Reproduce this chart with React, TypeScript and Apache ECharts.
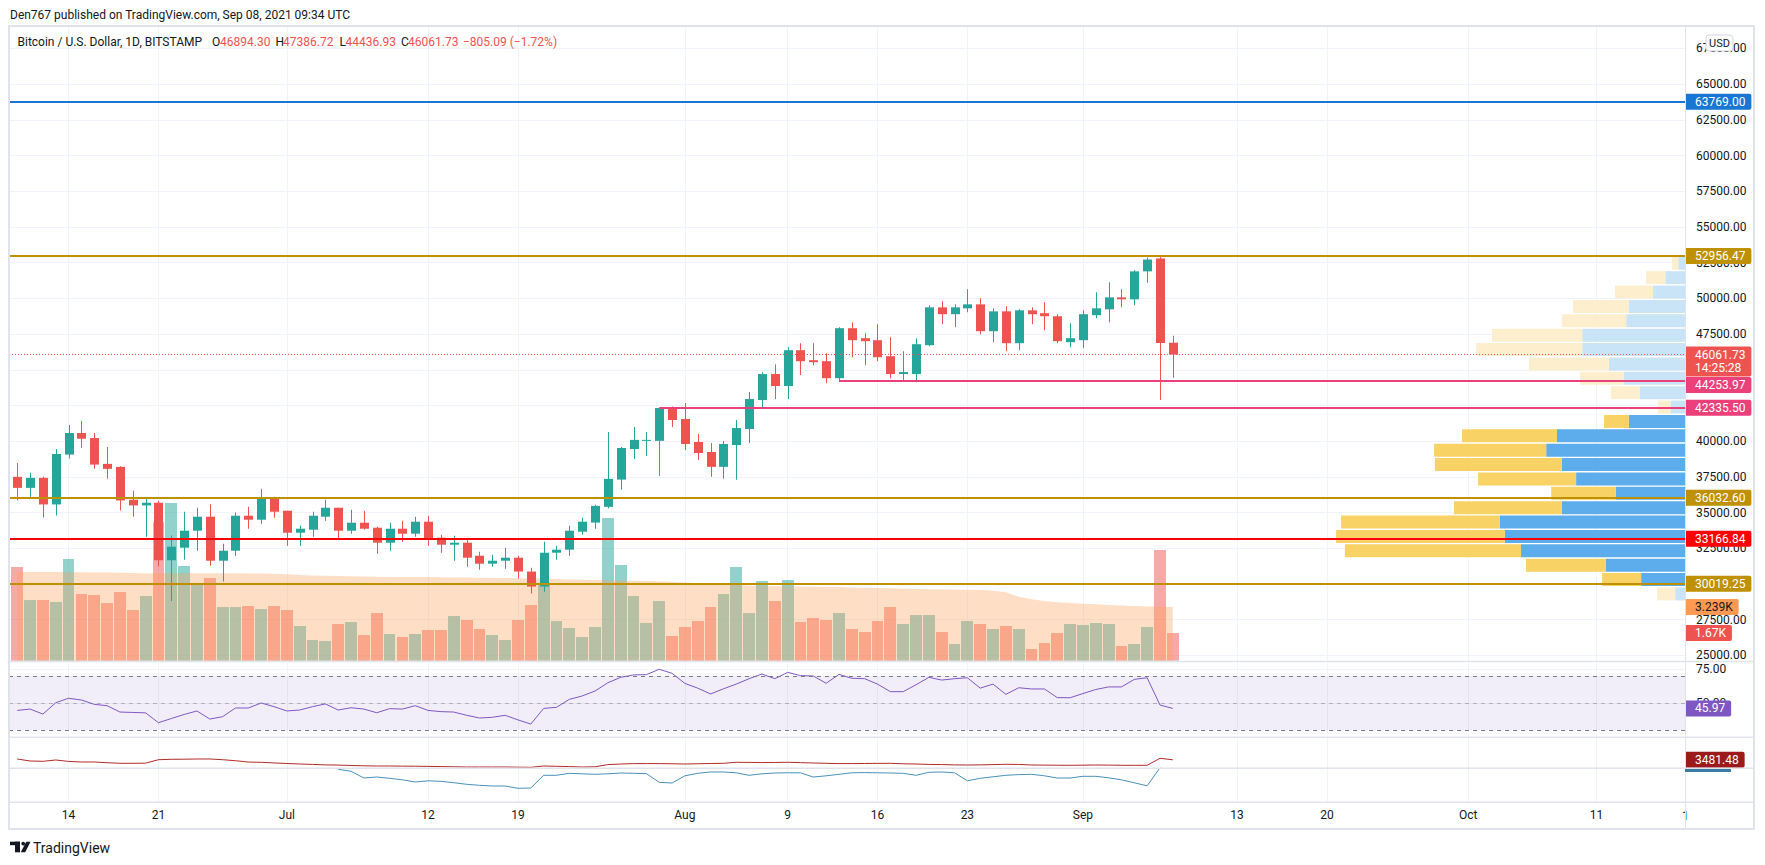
import React, { useEffect, useRef } from 'react';
import * as echarts from 'echarts';

// ---------------- data ----------------
const dates = [
  '2021-06-10','2021-06-11','2021-06-12','2021-06-13','2021-06-14','2021-06-15','2021-06-16','2021-06-17','2021-06-18','2021-06-19',
  '2021-06-20','2021-06-21','2021-06-22','2021-06-23','2021-06-24','2021-06-25','2021-06-26','2021-06-27','2021-06-28','2021-06-29',
  '2021-06-30','2021-07-01','2021-07-02','2021-07-03','2021-07-04','2021-07-05','2021-07-06','2021-07-07','2021-07-08','2021-07-09',
  '2021-07-10','2021-07-11','2021-07-12','2021-07-13','2021-07-14','2021-07-15','2021-07-16','2021-07-17','2021-07-18','2021-07-19',
  '2021-07-20','2021-07-21','2021-07-22','2021-07-23','2021-07-24','2021-07-25','2021-07-26','2021-07-27','2021-07-28','2021-07-29',
  '2021-07-30','2021-07-31','2021-08-01','2021-08-02','2021-08-03','2021-08-04','2021-08-05','2021-08-06','2021-08-07','2021-08-08',
  '2021-08-09','2021-08-10','2021-08-11','2021-08-12','2021-08-13','2021-08-14','2021-08-15','2021-08-16','2021-08-17','2021-08-18',
  '2021-08-19','2021-08-20','2021-08-21','2021-08-22','2021-08-23','2021-08-24','2021-08-25','2021-08-26','2021-08-27','2021-08-28',
  '2021-08-29','2021-08-30','2021-08-31','2021-09-01','2021-09-02','2021-09-03','2021-09-04','2021-09-05','2021-09-06','2021-09-07',
  '2021-09-08',
];

const opens = [
  37500,36730,37430,35570,39060,40570,40220,38410,38200,35900,
  35500,35690,31660,32540,33730,34710,31630,32330,34780,34500,
  35960,35130,33590,33800,34710,35340,33730,34290,33940,32890,
  33870,33520,34360,33240,32750,32890,31980,31420,31630,31840,
  30870,29820,32190,32400,33660,34300,35400,37310,39450,40020,
  40020,42320,41550,39940,39240,38200,39730,40850,42880,44700,
  43860,46370,45670,45600,44410,47910,47210,47070,45950,44700,
  44700,46720,49370,48890,49300,49580,47700,49090,46860,49160,
  48960,48750,46930,47070,48820,49230,50070,49930,51890,52790,
  46894.30,
];
const highs = [
  38480,37780,37500,39450,41130,41410,40570,39600,38250,36520,
  36060,35820,33400,35060,35330,35590,32820,35000,35400,36660,
  36100,35130,34080,35060,35900,35340,35200,35130,34010,34290,
  34430,34710,34780,33450,33380,33240,32260,32050,32540,31980,
  31140,32960,32680,34080,34640,35540,40640,39590,41000,40640,
  42320,42420,42670,40500,39870,40010,41480,43450,44830,45390,
  46580,46860,46860,46160,47980,48330,47560,48190,47280,46300,
  47210,49510,49790,49580,50630,50000,49300,49440,49230,49370,
  49720,48890,48260,49160,50420,51120,50630,51960,52860,52956.47,
  47386.72,
];
const lows = [
  35850,36010,34660,34800,38780,39525,38060,37360,35150,34700,
  33310,31240,28800,31700,32330,31280,30170,31960,33870,34220,
  34640,32680,32680,33310,34430,33170,33520,33800,32120,32330,
  32960,33310,32680,32190,31630,31210,31000,31210,31070,30380,
  29330,29450,31700,31980,33450,33870,35290,36620,38760,38970,
  37570,41000,39380,38690,37500,37360,37290,39870,42250,42950,
  42950,44630,45320,44060,44253.97,45880,45320,45600,44410,44200,
  44130,46650,48190,47980,49020,47490,46930,46300,46370,48190,
  47770,46860,46580,46510,48610,48330,49370,49510,51100,42890,
  44436.93,
];
const closes = [
  36730,37430,35570,39100,40570,40170,38360,38060,35850,35500,
  35690,31660,32610,33730,34710,31630,32330,34780,34500,35960,
  35060,33590,33870,34780,35340,33730,34290,33870,32890,33870,
  33520,34360,33100,32750,32890,31840,31420,31630,31840,30870,
  29820,32190,32400,33730,34360,35470,37360,39520,40090,40090,
  42320,41480,39800,39170,38200,39800,40920,42950,44700,43860,
  46370,45600,45530,44410,47910,47070,47000,45880,44700,44840,
  46790,49370,48890,49370,49580,47700,49090,46860,49160,48890,
  48750,47000,47210,48890,49300,50070,49930,51890,52720,46866.82,
  46061.73,
];
const volumes = [
  5645,3657,3657,3536,6127,4018,3958,3476,4139,3054,
  3898,8355,9500,5705,4681,4982,3235,3235,3295,3114,
  3295,3054,2090,1247,1187,2211,2331,1548,2873,1608,
  1428,1608,1849,1849,2693,2452,1910,1548,1247,2452,
  3355,4560,2392,1970,1428,2030,8596,5765,3898,2271,
  3596,1488,2030,2392,3235,4018,5645,2873,4801,3596,
  4861,2331,2572,2452,2873,1910,1729,2392,3235,2211,
  2753,2753,1729,1006,2392,2211,1910,2090,1910,705,
  1066,1669,2211,2151,2271,2211,886,1006,2030,6669,
  1670,
];
const volumeMA = [
  5360,5350,5350,5340,5330,5330,5320,5310,5300,5280,
  5260,5270,5280,5280,5270,5270,5270,5270,5260,5260,
  5240,5210,5170,5140,5120,5100,5090,5070,5060,5050,
  5050,5040,5040,5030,5020,5010,5000,4990,4980,4970,
  4960,4940,4920,4900,4880,4860,4850,4840,4820,4800,
  4770,4750,4710,4670,4630,4590,4560,4540,4510,4490,
  4480,4470,4460,4450,4440,4420,4400,4380,4360,4340,
  4320,4310,4300,4290,4280,4270,4220,4120,3860,3700,
  3600,3530,3480,3440,3400,3360,3320,3290,3260,3250,
  3239,
];
const rsi = [
  44.5,45.5,41.8,50.2,53.5,52.2,49,48,43.3,43,
  42.7,35.4,38.5,41.5,44.1,38.1,39.9,46.3,46.3,50,
  47.3,44.1,44.8,47.3,49.3,44.8,46.5,45.5,42.8,45.8,
  45.5,48,44.5,43.6,43.3,40.9,38.9,39.4,40.9,37.5,
  34.4,46,46.8,52.7,55.2,58.9,65,69,70.8,71,
  75,72,64.5,61,56.7,60.5,64,68,71.5,68,
  72.7,70.3,70,64.6,71.2,68.3,68,64,58.4,58.4,
  63.5,69,67,68,68.7,61,64,56.4,61.3,60.4,
  60.4,54,53.9,57,60,61.9,61.9,67.5,68.7,48.5,
  45.97,
];
const indicatorA = [
  3667,3200,3131,3434,3100,2968,2968,2800,2665,2665,
  2700,3500,3597,3620,3667,3667,3500,3270,2950,2898,
  2750,2620,2502,2400,2300,2250,2150,2080,2036,2036,
  2000,1990,1950,1900,1860,1803,1803,1803,1803,1760,
  1733,2036,1966,1900,1803,1850,2360,2500,2595,2595,
  2595,2560,2500,2560,2620,2665,2900,2870,2830,2860,
  2900,2820,2735,2660,2595,2595,2620,2650,2665,2550,
  2500,2400,2360,2300,2270,2300,2360,2430,2400,2270,
  2240,2220,2200,2230,2270,2250,2200,2200,2200,3830,
  3481.48,
];
const indicatorB = [
  null,null,null,null,null,null,null,null,null,null,
  null,null,null,null,null,null,null,null,null,null,
  null,null,null,null,null,-1,-3,-9.7,-8.7,-10,
  -11.5,-13.7,-12.5,-13,-14.4,-16,-17,-17.7,-17.7,-20,
  -19.7,-7,-7,-5,-5.5,-6,-5.5,-4.7,-5,-5.3,
  -14,-14.7,-7.5,-5,-3.7,-3.7,-4.5,-7,-5.5,-4.7,
  -4.5,-4.5,-8.7,-7.5,-6,-4.5,-4.3,-4.5,-4.7,-5,
  -7,-4,-3.7,-4.5,-12.5,-10,-8.5,-7,-6.3,-6,
  -7.5,-9.7,-9.7,-8,-8,-9.5,-11.5,-14.5,-17.5,0.5,
  6,
];

// visible-range volume profile, rows from bottom to top
const profileLow = 28800;
const profileHigh = 52956.47;
const profileUp = [9.8,43.9,79.1,164,180.1,185.1,123.1,69.1,108.9,123.1,138.8,128,56.1,14.4,45,61.1,76,102.8,102.8,58.8,56.1,32,19.7,6.7];
const profileDown = [18,39,79.9,176.1,168.8,158.8,107.9,64.7,98,127,112.1,95,24.9,12.6,29.1,44,80,106,90.3,64.3,55.9,37.9,19.2,6.2];
const valueAreaRows = [1, 12];

// drawn levels
const levelResistanceTop = 63769.0;
const levelGold = [52956.47, 36032.6, 30019.25];
const levelRed = 33166.84;
const rayLevels = [
  { price: 44253.97, from: '2021-08-13' },
  { price: 42335.5, from: '2021-07-30' },
];

const tickDates = ['2021-06-14','2021-06-21','2021-07-01','2021-07-12','2021-07-19','2021-08-01','2021-08-09','2021-08-16','2021-08-23','2021-09-01','2021-09-13','2021-09-20','2021-10-01','2021-10-11'];
const tickLabels = ['14','21','Jul','12','19','Aug','9','16','23','Sep','13','20','Oct','11'];

const countdown = '14:25:28';

// ---------------- style / layout ----------------
const FONT = 'Roboto, "Noto Sans", Arial, sans-serif';
const TEXT = '#131722';
const GREEN = '#26a69a';
const RED = '#ef5350';
const GOLD = '#bf9000';
const PINK = '#ec407a';
const BLUE = '#1976d2';
const GRID_LINE = '#f0f3fa';
const BORDER = '#e0e3eb';
const NO_LINE = { color: 'rgba(0,0,0,0)', width: 0 };

const PLOT_L = 9;
const PLOT_R = 1685;
const PLOT_W = PLOT_R - PLOT_L;
const FRAME_R = 1754;
const DAY_PX = 12.84;
const X_MIN = -0.64;
const X_MAX = X_MIN + PLOT_W / DAY_PX;

const dayIndex = (d: string) => Math.round((Date.parse(d) - Date.parse(dates[0])) / 86400000);
const tickIdx = tickDates.map(dayIndex);
const tickFmt = (v: number) => {
  const k = tickIdx.indexOf(Math.round(v));
  return k >= 0 ? tickLabels[k] : '';
};

const fmtK = (v: number) => (v / 1000).toFixed(3).replace(/0+$/, '').replace(/\.$/, '') + 'K';

const box = (bg: string, color = '#ffffff', extra: any = {}) => ({
  show: true,
  position: 'end',
  distance: 0,
  backgroundColor: bg,
  color,
  fontSize: 12,
  fontFamily: FONT,
  lineHeight: 12,
  padding: [2, 6, 2, 10],
  borderRadius: [0, 2, 2, 0],
  ...extra,
});

const makeX = (gridIndex: number, grid: boolean, labels: boolean) => ({
  type: 'value',
  gridIndex,
  min: X_MIN,
  max: X_MAX,
  axisLine: { show: false },
  axisTick: { show: false, customValues: tickIdx },
  axisLabel: labels
    ? { show: true, customValues: tickIdx, formatter: tickFmt, color: TEXT, fontSize: 12, fontFamily: FONT, margin: 7 }
    : { show: false },
  splitLine: { show: grid, lineStyle: { color: GRID_LINE, width: 1 } },
});

function buildOption() {
  const n = closes.length;
  const last = n - 1;
  const step = (profileHigh - profileLow) / profileUp.length;

  const priceLevelLines: any[] = [
    {
      yAxis: levelResistanceTop,
      lineStyle: { color: BLUE, width: 2, type: 'solid' },
      label: box(BLUE, '#fff', { formatter: levelResistanceTop.toFixed(2) }),
    },
    ...levelGold.map((p) => ({
      yAxis: p,
      lineStyle: { color: GOLD, width: 2, type: 'solid' },
      label: box(GOLD, '#fff', { formatter: p.toFixed(2) }),
    })),
    {
      yAxis: levelRed,
      lineStyle: { color: '#ff0000', width: 2, type: 'solid' },
      label: box('#ff0000', '#fff', { formatter: levelRed.toFixed(2) }),
    },
    {
      yAxis: closes[last],
      lineStyle: { color: RED, width: 1, type: [1, 2] },
      label: box(RED, '#fff', { formatter: closes[last].toFixed(2) + '\n' + countdown, lineHeight: 13, offset: [0, 7] }),
    },
    ...rayLevels.map((r, k) => [
      {
        coord: [dayIndex(r.from), r.price],
        lineStyle: { color: PINK, width: 2, type: 'solid' },
        label: box(PINK, '#fff', { formatter: r.price.toFixed(2), offset: [0, k === 0 ? 4.6 : 0] }),
      },
      { coord: [X_MAX, r.price] },
    ]),
  ];

  return {
    animation: false,
    backgroundColor: '#ffffff',
    textStyle: { fontFamily: FONT },
    grid: [
      { left: PLOT_L, width: PLOT_W, top: 12.71, height: 678.39 }, // 0 price
      { left: PLOT_L, width: PLOT_W, top: 27, height: 633.7 }, // 1 volume
      { left: PLOT_L, width: PLOT_W, top: 662.5, height: 74.25 }, // 2 rsi
      { left: PLOT_L, width: PLOT_W, top: 737.3, height: 31 }, // 3 indicator A
      { left: PLOT_L, width: PLOT_W, top: 768.3, height: 34 }, // 4 indicator B
      { left: PLOT_L, width: PLOT_W, top: 12.71, height: 678.39 }, // 5 profile
    ],
    xAxis: [
      { ...makeX(0, false, false), show: false },
      makeX(1, true, false),
      makeX(2, true, false),
      makeX(3, true, false),
      makeX(4, true, true),
      { type: 'value', gridIndex: 5, min: 0, max: PLOT_W, inverse: true, show: false },
    ],
    yAxis: [
      {
        type: 'value', gridIndex: 0, position: 'right', min: 22500, max: 70000, interval: 2500,
        axisLine: { show: false }, axisTick: { show: false },
        axisLabel: {
          formatter: (v: number) => v.toFixed(2), color: TEXT, fontSize: 12, fontFamily: FONT, margin: 11,
          showMinLabel: false, showMaxLabel: false,
        },
        splitLine: { show: true, showMinLine: false, showMaxLine: false, lineStyle: { color: GRID_LINE, width: 1 } },
      },
      { type: 'value', gridIndex: 1, min: 0, max: 38200, show: false },
      {
        type: 'value', gridIndex: 2, position: 'right', min: 25, max: 80, interval: 25,
        axisLine: { show: false }, axisTick: { show: false },
        axisLabel: {
          formatter: (v: number) => v.toFixed(2), color: TEXT, fontSize: 12, fontFamily: FONT, margin: 11,
          showMinLabel: false, showMaxLabel: false,
        },
        splitLine: { show: true, showMinLine: false, showMaxLine: false, lineStyle: { color: GRID_LINE, width: 1 } },
      },
      { type: 'value', gridIndex: 3, min: 1500, max: 8723, show: false },
      { type: 'value', gridIndex: 4, min: -34, max: 0, show: false },
      { type: 'value', gridIndex: 5, min: 22500, max: 70000, show: false },
    ],
    series: [
      {
        name: 'Volume profile',
        type: 'custom',
        xAxisIndex: 5,
        yAxisIndex: 5,
        z: 1,
        silent: true,
        data: profileUp.map((u, i) => [i, u, profileDown[i]]),
        renderItem: (params: any, api: any) => {
          const i = api.value(0);
          const up = api.value(1);
          const dn = api.value(2);
          const lo = profileLow + i * step;
          const hi = lo + step;
          const a = api.coord([0, hi]);
          const b = api.coord([up, lo]);
          const c = api.coord([up + dn, lo]);
          const inVA = i >= valueAreaRows[0] && i <= valueAreaRows[1];
          const y0 = a[1] + 0.7;
          const h = b[1] - a[1] - 1.4;
          return {
            type: 'group',
            children: [
              { type: 'rect', shape: { x: b[0], y: y0, width: a[0] - b[0], height: h }, style: { fill: inVA ? '#5dadec' : '#c9e4f6' } },
              { type: 'rect', shape: { x: c[0], y: y0, width: b[0] - c[0], height: h }, style: { fill: inVA ? '#f9d266' : '#fdefcd' } },
            ],
          };
        },
      },
      {
        name: 'Volume',
        type: 'custom',
        xAxisIndex: 1,
        yAxisIndex: 1,
        z: 2,
        silent: true,
        data: volumes.map((v, i) => [i, v]),
        renderItem: (params: any, api: any) => {
          const i = api.value(0);
          const v = api.value(1);
          const top = api.coord([i, v]);
          const base = api.coord([i, 0]);
          const x0 = Math.round(top[0] - 5.9);
          const x1 = Math.round(top[0] + 5.9);
          const up = closes[i] >= opens[i];
          return {
            type: 'rect',
            shape: { x: x0, y: top[1], width: x1 - x0, height: base[1] - top[1] },
            style: { fill: up ? 'rgba(38,166,154,0.5)' : 'rgba(239,83,80,0.5)' },
          };
        },
      },
      {
        name: 'Volume MA',
        type: 'line',
        xAxisIndex: 1,
        yAxisIndex: 1,
        z: 3,
        silent: true,
        showSymbol: false,
        data: volumeMA.map((v, i) => [i, v]),
        lineStyle: { opacity: 0 },
        areaStyle: { color: 'rgba(251,161,89,0.5)' },
        markLine: {
          symbol: 'none',
          silent: true,
          animation: false,
          data: [
            { yAxis: volumeMA[last], lineStyle: NO_LINE, label: box('#ff9a52', TEXT, { formatter: fmtK(volumeMA[last]) }) },
            { yAxis: volumes[last], lineStyle: NO_LINE, label: box(RED, '#fff', { formatter: fmtK(volumes[last]) }) },
          ],
        },
      },
      {
        name: 'BTCUSD',
        type: 'custom',
        xAxisIndex: 0,
        yAxisIndex: 0,
        z: 4,
        silent: true,
        data: closes.map((c, i) => [i, opens[i], c, lows[i], highs[i]]),
        renderItem: (params: any, api: any) => {
          const i = api.value(0);
          const o = api.value(1);
          const c = api.value(2);
          const l = api.value(3);
          const h = api.value(4);
          const po = api.coord([i, o]);
          const pc = api.coord([i, c]);
          const pl = api.coord([i, l]);
          const ph = api.coord([i, h]);
          const color = c >= o ? GREEN : RED;
          const cx = Math.round(po[0]);
          const top = Math.min(po[1], pc[1]);
          const hh = Math.max(1, Math.abs(po[1] - pc[1]));
          return {
            type: 'group',
            children: [
              { type: 'rect', shape: { x: cx, y: ph[1], width: 1, height: pl[1] - ph[1] }, style: { fill: color } },
              { type: 'rect', shape: { x: cx - 4, y: top, width: 9, height: hh }, style: { fill: color } },
            ],
          };
        },
      },
      {
        name: 'Levels',
        type: 'line',
        xAxisIndex: 0,
        yAxisIndex: 0,
        z: 5,
        silent: true,
        showSymbol: false,
        data: closes.map((c, i) => [i, c]),
        lineStyle: { opacity: 0 },
        markLine: { symbol: 'none', silent: true, animation: false, data: priceLevelLines },
      },
      {
        name: 'RSI',
        type: 'line',
        xAxisIndex: 2,
        yAxisIndex: 2,
        z: 4,
        silent: true,
        showSymbol: false,
        data: rsi.map((v, i) => [i, v]),
        lineStyle: { color: '#7e57c2', width: 1 },
        markArea: {
          silent: true,
          itemStyle: { color: 'rgba(126,87,194,0.1)' },
          data: [[{ yAxis: 30 }, { yAxis: 70 }]],
        },
        markLine: {
          symbol: 'none',
          silent: true,
          animation: false,
          data: [
            { yAxis: 70, lineStyle: { color: '#787b86', width: 1, type: [4, 4] }, label: { show: false } },
            { yAxis: 50, lineStyle: { color: 'rgba(120,123,134,0.5)', width: 1, type: [4, 4] }, label: { show: false } },
            { yAxis: 30, lineStyle: { color: '#787b86', width: 1, type: [4, 4] }, label: { show: false } },
            { yAxis: rsi[last], lineStyle: NO_LINE, label: box('#7e57c2', '#fff', { formatter: rsi[last].toFixed(2) }) },
          ],
        },
      },
      {
        name: 'Indicator A',
        type: 'line',
        xAxisIndex: 3,
        yAxisIndex: 3,
        z: 4,
        silent: true,
        showSymbol: false,
        data: indicatorA.map((v, i) => [i, v]),
        lineStyle: { color: '#b22a2a', width: 1 },
        markLine: {
          symbol: 'none',
          silent: true,
          animation: false,
          data: [
            { yAxis: indicatorA[last], lineStyle: NO_LINE, label: box('#9c1a1a', '#fff', { formatter: indicatorA[last].toFixed(2) }) },
          ],
        },
      },
      {
        name: 'Indicator B',
        type: 'line',
        xAxisIndex: 4,
        yAxisIndex: 4,
        z: 4,
        silent: true,
        showSymbol: false,
        clip: true,
        data: indicatorB.map((v, i) => [i, v]),
        lineStyle: { color: '#4a90b9', width: 1 },
      },
    ],
    graphic: {
      elements: [
        {
          type: 'text', x: 10, y: 15, silent: true, z: 50,
          style: { text: 'Den767 published on TradingView.com, Sep 08, 2021 09:34 UTC', fill: TEXT, font: `12px ${FONT}`, verticalAlign: 'middle' },
        },
        { type: 'text', x: 17.5, y: 42, silent: true, z: 50, style: { text: 'Bitcoin / U.S. Dollar, 1D, BITSTAMP', fill: TEXT, font: `12px ${FONT}`, verticalAlign: 'middle' } },
        { type: 'text', x: 212, y: 42, silent: true, z: 50, style: { text: 'O', fill: TEXT, font: `12px ${FONT}`, verticalAlign: 'middle' } },
        { type: 'text', x: 220, y: 42, silent: true, z: 50, style: { text: opens[last].toFixed(2), fill: RED, font: `12px ${FONT}`, verticalAlign: 'middle' } },
        { type: 'text', x: 275.5, y: 42, silent: true, z: 50, style: { text: 'H', fill: TEXT, font: `12px ${FONT}`, verticalAlign: 'middle' } },
        { type: 'text', x: 283, y: 42, silent: true, z: 50, style: { text: highs[last].toFixed(2), fill: RED, font: `12px ${FONT}`, verticalAlign: 'middle' } },
        { type: 'text', x: 339.5, y: 42, silent: true, z: 50, style: { text: 'L', fill: TEXT, font: `12px ${FONT}`, verticalAlign: 'middle' } },
        { type: 'text', x: 345.5, y: 42, silent: true, z: 50, style: { text: lows[last].toFixed(2), fill: RED, font: `12px ${FONT}`, verticalAlign: 'middle' } },
        { type: 'text', x: 401, y: 42, silent: true, z: 50, style: { text: 'C', fill: TEXT, font: `12px ${FONT}`, verticalAlign: 'middle' } },
        { type: 'text', x: 408, y: 42, silent: true, z: 50, style: { text: closes[last].toFixed(2), fill: RED, font: `12px ${FONT}`, verticalAlign: 'middle' } },
        {
          type: 'text', x: 463, y: 42, silent: true, z: 50,
          style: {
            text: (() => {
              const ch = closes[last] - closes[last - 1];
              const pct = (ch / closes[last - 1]) * 100;
              const s = (v: number) => (v < 0 ? '\u2212' : '+') + Math.abs(v).toFixed(2);
              return `${s(ch)} (${s(pct)}%)`;
            })(),
            fill: RED, font: `12px ${FONT}`, verticalAlign: 'middle',
          },
        },
        // frame & separators
        { type: 'rect', silent: true, z: 60, shape: { x: 9, y: 26, width: FRAME_R - 9, height: 803 }, style: { fill: 'none', stroke: BORDER, lineWidth: 2 } },
        { type: 'line', silent: true, z: 60, shape: { x1: PLOT_R + 0.5, y1: 26, x2: PLOT_R + 0.5, y2: 829 }, style: { stroke: BORDER, lineWidth: 1 } },
        { type: 'line', silent: true, z: 60, shape: { x1: 9, y1: 661.5, x2: FRAME_R, y2: 661.5 }, style: { stroke: BORDER, lineWidth: 1.5 } },
        { type: 'line', silent: true, z: 60, shape: { x1: 9, y1: 737.3, x2: FRAME_R, y2: 737.3 }, style: { stroke: BORDER, lineWidth: 1.5 } },
        { type: 'line', silent: true, z: 60, shape: { x1: 9, y1: 768.3, x2: FRAME_R, y2: 768.3 }, style: { stroke: BORDER, lineWidth: 1.5 } },
        { type: 'line', silent: true, z: 60, shape: { x1: 9, y1: 802.3, x2: FRAME_R, y2: 802.3 }, style: { stroke: BORDER, lineWidth: 1.5 } },
        // USD badge
        { type: 'rect', silent: true, z: 61, shape: { x: 1706, y: 35, width: 27, height: 16, r: 3 }, style: { fill: '#ffffff', stroke: '#d1d4dc', lineWidth: 1 } },
        { type: 'text', silent: true, z: 62, x: 1719.5, y: 43, style: { text: 'USD', fill: TEXT, font: `11px ${FONT}`, align: 'center', verticalAlign: 'middle' } },
        // indicator B value tag (clipped by its pane)
        { type: 'rect', silent: true, z: 61, shape: { x: PLOT_R, y: 769, width: 46, height: 3 }, style: { fill: '#3a7ca5' } },
        // partially hidden time label at the pane edge
        { type: 'text', silent: true, z: 59, x: 1682, y: 815.7, style: { text: '1', fill: TEXT, font: `12px ${FONT}`, verticalAlign: 'middle' } },
        // TradingView logo
        { type: 'rect', silent: true, z: 50, shape: { x: 10, y: 841.7, width: 10, height: 3.5 }, style: { fill: TEXT } },
        { type: 'rect', silent: true, z: 50, shape: { x: 15, y: 841.7, width: 5, height: 10.6 }, style: { fill: TEXT } },
        { type: 'circle', silent: true, z: 50, shape: { cx: 23.2, cy: 843.6, r: 1.9 }, style: { fill: TEXT } },
        { type: 'polygon', silent: true, z: 50, shape: { points: [[26.2, 841.7], [30.5, 841.7], [25.2, 852.3], [20.8, 852.3]] }, style: { fill: TEXT } },
        { type: 'text', silent: true, z: 50, x: 33, y: 847.5, style: { text: 'TradingView', fill: TEXT, font: `14px ${FONT}`, verticalAlign: 'middle' } },
      ],
    },
  };
}

export default function App() {
  const ref = useRef<HTMLDivElement>(null);
  useEffect(() => {
    if (!ref.current) return;
    const chart = echarts.init(ref.current, undefined, { renderer: 'svg' });
    chart.setOption(buildOption() as any);
    return () => chart.dispose();
  }, []);
  return (
    <div
      ref={ref}
      style={{ position: 'fixed', left: 0, top: 0, width: 1765, height: 865, background: '#ffffff' }}
    />
  );
}
